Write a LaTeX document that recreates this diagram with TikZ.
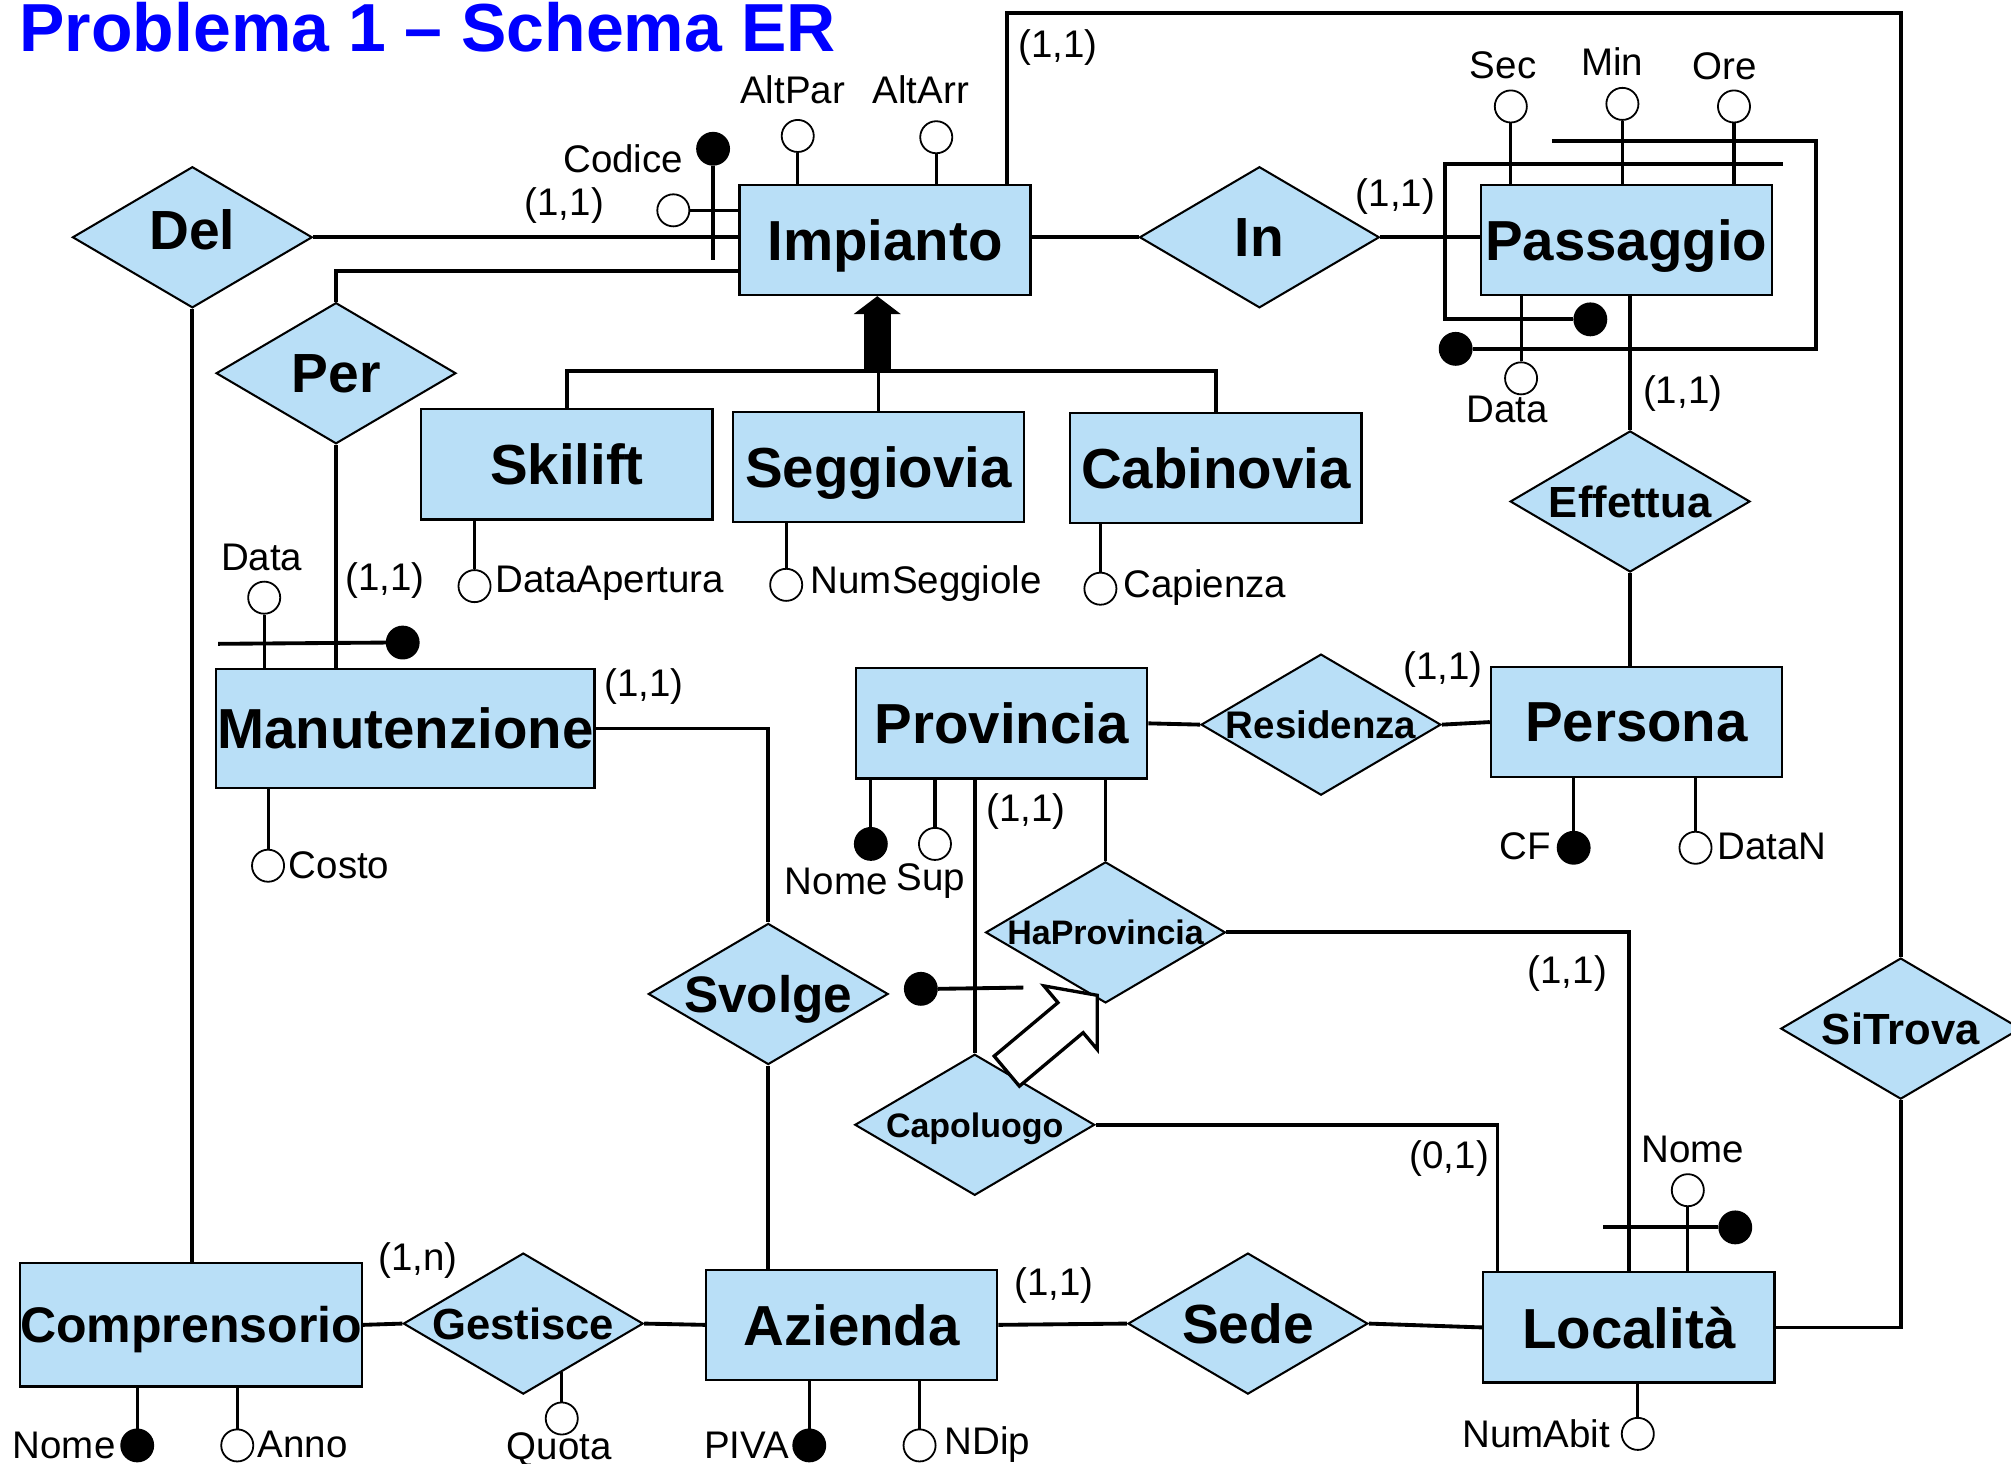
\documentclass[tikz,border=0pt]{standalone}
\usepackage{fontspec}
\setmainfont{Liberation Sans}
\usepackage{tikz}
\usetikzlibrary{arrows.meta,shapes.geometric,shapes.arrows}
\definecolor{erfill}{RGB}{185,223,247}
\definecolor{titleblue}{RGB}{0,0,255}
\tikzset{font=\fontsize{30}{30}\selectfont}
\tikzset{
  entity/.style={draw, line width=1.8pt, fill=erfill, minimum width=227, minimum height=86,
    inner sep=0pt, text depth=0pt, font=\bfseries\fontsize{44}{44}\selectfont},
  rel/.style={diamond, draw, line width=1.6pt, fill=erfill, minimum width=187, minimum height=110, inner sep=0pt},
  reltext/.style={inner sep=0pt, text depth=0pt, font=\bfseries\fontsize{#1}{#1}\selectfont},
  attr/.style={circle, draw, line width=1.4pt, fill=white, minimum size=25, inner sep=0pt},
  keyattr/.style={attr, fill=black},
  txt/.style={inner sep=0pt},
  title/.style={inner sep=0pt, text=titleblue, font=\bfseries\fontsize{53}{53}\selectfont},
  conn/.style={line width=3pt},
  attrline/.style={line width=2.4pt},
  idline/.style={line width=3pt},
  isa/.style={line width=21pt, -{Triangle[length=14pt, width=36pt]}},
  fatarrow/.style={single arrow, draw, line width=2.6pt, fill=white, inner sep=14pt, minimum height=92,
    single arrow head extend=17pt, single arrow tip angle=100}
}

\begin{document}
\begin{tikzpicture}[x=1pt,y=-1pt]
  \useasboundingbox (0,0) rectangle (1568,1141);

  \node[title, anchor=base west] (title) at (15,40) {Problema 1 – Schema ER};

  % entita'
  \node[entity] (Impianto) at (690,187) {Impianto};
  \node[entity] (Passaggio) at (1268,187) {Passaggio};
  \node[entity] (Skilift) at (442,362) {Skilift};
  \node[entity] (Seggiovia) at (685,364) {Seggiovia};
  \node[entity] (Cabinovia) at (948,365) {Cabinovia};
  \node[entity, minimum width=295, minimum height=93] (Manutenzione) at (316,568) {Manutenzione};
  \node[entity] (Provincia) at (781,564) {Provincia};
  \node[entity] (Persona) at (1276,563) {Persona};
  \node[entity, minimum width=264, minimum height=96, font=\bfseries\fontsize{39}{39}\selectfont] (Comprensorio) at (149,1033) {Comprensorio};
  \node[entity] (Azienda) at (664,1033) {Azienda};
  \node[entity] (Localita) at (1270,1035) {Località};

  % relazioni
  \node[rel, label={[reltext=43, yshift=6pt]center:Del}] (Del) at (150,185) {};
  \node[rel, label={[reltext=43]center:Per}] (Per) at (262,291) {};
  \node[rel, label={[reltext=43]center:In}] (In) at (982,185) {};
  \node[rel, label={[reltext=34]center:Effettua}] (Effettua) at (1271,391) {};
  \node[rel, label={[reltext=30]center:Residenza}] (Residenza) at (1030,565) {};
  \node[rel, label={[reltext=26.5]center:HaProvincia}] (HaProvincia) at (862,727) {};
  \node[rel, label={[reltext=40]center:Svolge}] (Svolge) at (599,775) {};
  \node[rel, label={[reltext=26.5]center:Capoluogo}] (Capoluogo) at (760,877) {};
  \node[rel, label={[reltext=34]center:SiTrova}] (SiTrova) at (1482,802) {};
  \node[rel, label={[reltext=34]center:Gestisce}] (Gestisce) at (408,1032) {};
  \node[rel, label={[reltext=43]center:Sede}] (Sede) at (973,1032) {};

  % attributi
  \node[attr] (Codice) at (525,164) {};
  \node[keyattr] (idImp) at (556,116) {};
  \node[attr] (AltPar) at (622,106) {};
  \node[attr] (AltArr) at (730,107) {};
  \node[attr] (Sec) at (1178,83) {};
  \node[attr] (Min) at (1265,81) {};
  \node[attr] (Ore) at (1352,83) {};
  \node[attr] (PData) at (1186,295) {};
  \node[keyattr] (idPassA) at (1240,249) {};
  \node[keyattr] (idPassB) at (1135,272) {};
  \node[attr] (DataApertura) at (370,457) {};
  \node[attr] (NumSeggiole) at (613,456) {};
  \node[attr] (Capienza) at (858,459) {};
  \node[attr] (MData) at (206,466) {};
  \node[keyattr] (idMan) at (314,501) {};
  \node[attr] (Costo) at (209,675) {};
  \node[keyattr] (PNome) at (679,658) {};
  \node[attr] (Sup) at (729,658) {};
  \node[keyattr] (CF) at (1227,661) {};
  \node[attr] (DataN) at (1322,661) {};
  \node[keyattr] (idCap) at (718,771) {};
  \node[attr] (LNome) at (1316,928) {};
  \node[keyattr] (idLoc) at (1353,957) {};
  \node[attr] (NumAbit) at (1277,1118) {};
  \node[keyattr] (CNome) at (107,1127) {};
  \node[attr] (Anno) at (185,1127) {};
  \node[attr] (Quota) at (438,1106) {};
  \node[keyattr] (PIVA) at (631,1127) {};
  \node[attr] (NDip) at (717,1127) {};

  \node[txt] (tCodice) at (486,124) {Codice};
  \node[txt] (tAltPar) at (618,70) {AltPar};
  \node[txt] (tAltArr) at (718,70) {AltArr};
  \node[txt] (tSec) at (1172,51) {Sec};
  \node[txt] (tMin) at (1257,48) {Min};
  \node[txt] (tOre) at (1345,52) {Ore};
  \node[txt] (tPData) at (1175,319) {Data};
  \node[txt, anchor=west] (tDataApertura) at (386,455) {DataApertura};
  \node[txt, anchor=west] (tNumSeggiole) at (632,455) {NumSeggiole};
  \node[txt, anchor=west] (tCapienza) at (876,458) {Capienza};
  \node[txt] (tMData) at (204,435) {Data};
  \node[txt, anchor=west] (tCosto) at (225,675) {Costo};
  \node[txt] (tPNome) at (652,687) {Nome};
  \node[txt] (tSup) at (726,687) {Sup};
  \node[txt] (tCF) at (1189,660) {CF};
  \node[txt, anchor=west] (tDataN) at (1339,660) {DataN};
  \node[txt] (tLNome) at (1320,896) {Nome};
  \node[txt] (tNumAbit) at (1198,1118) {NumAbit};
  \node[txt] (tCNome) at (50,1127) {Nome};
  \node[txt] (tAnno) at (236,1126) {Anno};
  \node[txt] (tQuota) at (436,1130) {Quota};
  \node[txt] (tPIVA) at (582,1127) {PIVA};
  \node[txt] (tNDip) at (770,1126) {NDip};

  % cardinalita'
  \node[txt] (cTop) at (825,37) {(1,1)};
  \node[txt] (cDel) at (440,160) {(1,1)};
  \node[txt] (cIn) at (1088,153) {(1,1)};
  \node[txt] (cEffettua) at (1312,307) {(1,1)};
  \node[txt] (cPer) at (300,453) {(1,1)};
  \node[txt] (cSvolge) at (502,535) {(1,1)};
  \node[txt] (cResidenza) at (1125,522) {(1,1)};
  \node[txt] (cCapoluogo) at (800,633) {(1,1)};
  \node[txt] (cHaProvincia) at (1222,759) {(1,1)};
  \node[txt] (cLocalita) at (1130,903) {(0,1)};
  \node[txt] (cGestisce) at (326,983) {(1,n)};
  \node[txt] (cSede) at (822,1002) {(1,1)};

  \coordinate (topRoute) at (785,10);
  \coordinate (isaBar) at (684,289);
  \coordinate (idImpEnd) at (556,203);
  \coordinate (idPassAend) at (1390,128);
  \coordinate (idPassBend) at (1210,110);
  \coordinate (idManEnd) at (170,502);
  \coordinate (idCapEnd) at (798,770);
  \coordinate (idLocEnd) at (1250,957);

  % collegamenti
  \draw[conn] (Del.east) -- (Del.east -| Impianto.west);
  \draw[conn] (Del.south) -- (Del.south |- Comprensorio.north);
  \draw[conn] ([yshift=-24pt]Impianto.west) -| (Per.north);
  \draw[conn] (Per.south) -- (Per.south |- Manutenzione.north);
  \draw[conn] (Impianto.east |- In.west) -- (In.west);
  \draw[conn] (In.east) -- (In.east -| Passaggio.west);
  \draw[conn] (topRoute |- Impianto.north) -- (topRoute) -| (SiTrova.north);
  \draw[conn] (Effettua.north |- Passaggio.south) -- (Effettua.north);
  \draw[conn] (Effettua.south) -- (Effettua.south |- Persona.north);
  \draw[conn] (Manutenzione.east) -| (Svolge.north);
  \draw[conn] (Svolge.south) -- (Svolge.south |- Azienda.north);
  \draw[conn] (Comprensorio.east) -- (Gestisce.west);
  \draw[conn] (Gestisce.east) -- (Azienda.west);
  \draw[conn] (Azienda.east) -- (Sede.west);
  \draw[conn] (Sede.east) -- (Localita.west);
  \draw[conn] (Localita.east) -| (SiTrova.south);
  \draw[conn] (Provincia.east) -- (Residenza.west);
  \draw[conn] (Residenza.east) -- (Persona.west);
  \draw[conn] (HaProvincia.north |- Provincia.south) -- (HaProvincia.north);
  \draw[conn] (HaProvincia.east) -| (Localita.north);
  \draw[conn] (Capoluogo.north |- Provincia.south) -- (Capoluogo.north);
  \draw[conn] (Capoluogo.east) -| ([xshift=12pt]Localita.north west);

  % gerarchia
  \draw[conn] (Skilift.north) |- (isaBar) -| (Cabinovia.north);
  \draw[conn] (Seggiovia.north) -- (Seggiovia.north |- isaBar);
  \draw[isa] (isaBar) -- (isaBar |- Impianto.south);
  \node[fatarrow, anchor=tail, rotate=40] (capArrow) at (784,836) {};

  % linee attributi
  \draw[attrline] (Codice.east) -- (Codice.east -| Impianto.west);
  \foreach \a in {AltPar, AltArr}
    \draw[attrline] (\a.south) -- (\a.south |- Impianto.north);
  \foreach \a in {Sec, Min, Ore}
    \draw[attrline] (\a.south) -- (\a.south |- Passaggio.north);
  \draw[attrline] (PData.north) -- (PData.north |- Passaggio.south);
  \draw[attrline] (DataApertura.north) -- (DataApertura.north |- Skilift.south);
  \draw[attrline] (NumSeggiole.north) -- (NumSeggiole.north |- Seggiovia.south);
  \draw[attrline] (Capienza.north) -- (Capienza.north |- Cabinovia.south);
  \draw[attrline] (MData.south) -- (MData.south |- Manutenzione.north);
  \draw[attrline] (Costo.north) -- (Costo.north |- Manutenzione.south);
  \foreach \a in {PNome, Sup}
    \draw[attrline] (\a.north) -- (\a.north |- Provincia.south);
  \foreach \a in {CF, DataN}
    \draw[attrline] (\a.north) -- (\a.north |- Persona.south);
  \draw[attrline] (LNome.south) -- (LNome.south |- Localita.north);
  \draw[attrline] (NumAbit.north) -- (NumAbit.north |- Localita.south);
  \foreach \a in {CNome, Anno}
    \draw[attrline] (\a.north) -- (\a.north |- Comprensorio.south);
  \foreach \a in {PIVA, NDip}
    \draw[attrline] (\a.north) -- (\a.north |- Azienda.south);
  \draw[attrline] (Quota.north) -- (Quota.north |- Gestisce.-51);

  % identificatori
  \draw[idline] (idImp.south) -- (idImpEnd);
  \draw[idline] (idPassAend) -| ([xshift=-100pt]idPassA.west) -- (idPassA.west);
  \draw[idline] (idPassBend) -| ([xshift=268pt]idPassB.east) -- (idPassB.east);
  \draw[idline] (idManEnd) -- (idMan.west);
  \draw[idline] (idCap.east) -- (idCapEnd);
  \draw[idline] (idLocEnd) -- (idLoc.west);
\end{tikzpicture}
\end{document}
